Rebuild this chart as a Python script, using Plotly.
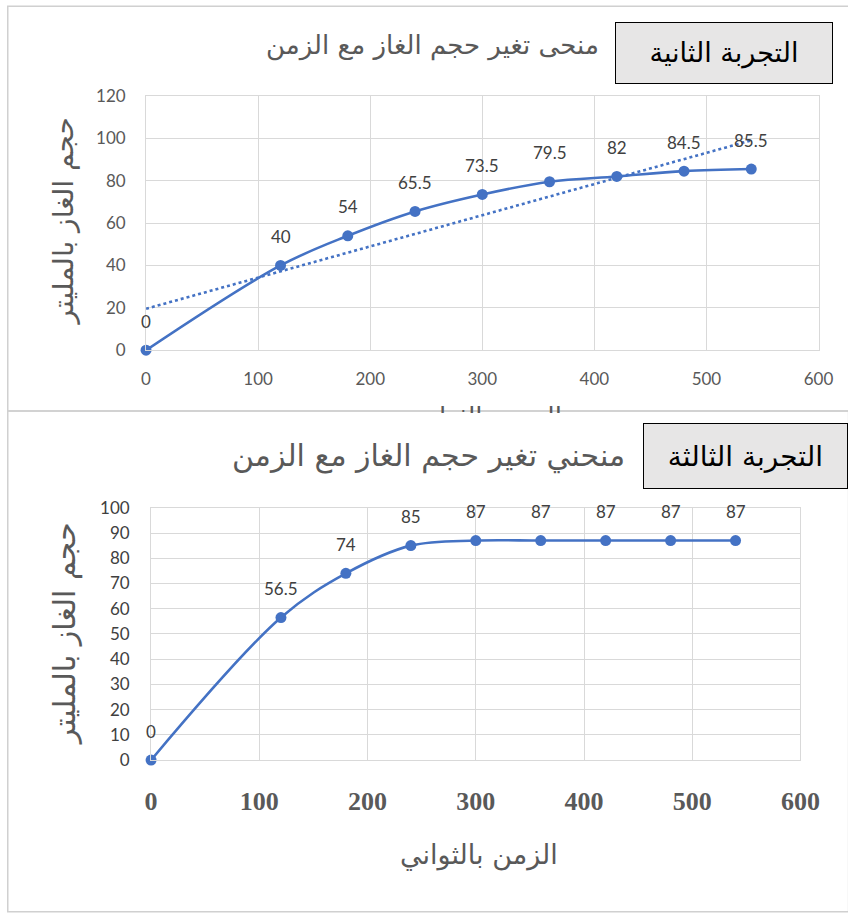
import numpy as np
import plotly.graph_objects as go

# layout positions below are given in page pixels of the final view
OFF = 8                      # body margin around the figure
KX, OX = 0.968, -1.5         # view scale / offset, horizontal
KY, OY = 0.98, 1.0           # view scale / offset, vertical
W, H = 870, 924

# ---- data ----
time_s = [0, 120, 180, 240, 300, 360, 420, 480, 540]
vol_exp2 = [0, 40, 54, 65.5, 73.5, 79.5, 82, 84.5, 85.5]
vol_exp3 = [0, 56.5, 74, 85, 87, 87, 87, 87, 87]

title_exp2 = "منحى تغير حجم الغاز مع الزمن"
title_exp3 = "منحني تغير حجم الغاز مع الزمن"
label_exp2 = "التجربة الثانية"
label_exp3 = "التجربة الثالثة"
x_title = "الزمن بالثواني"
y_title = "حجم الغاز بالمليتر"

BLUE = "#4472C4"
GRID = "#d9d9d9"
TXT = "#595959"
AR_FONT = "DejaVu Sans"
NUM_FONT = "Lato, Calibri, Carlito, sans-serif"


def fx(x):
    return (x - OX) / KX - OFF


def fy(y):
    return (y - OY) / KY - OFF


def px(x):
    return fx(x) / W


def py(y):
    return 1 - fy(y) / H


# linear trend of experiment 2
slope, intercept = np.polyfit(time_s, vol_exp2, 1)
trend_x = [time_s[0], time_s[-1]]
trend_y = [intercept + slope * t for t in trend_x]

fig = go.Figure()

fig.add_trace(go.Scatter(
    x=trend_x, y=trend_y, mode="lines", xaxis="x", yaxis="y",
    line=dict(color=BLUE, width=2.6, dash="dot"), hoverinfo="skip",
    cliponaxis=False,
))
fig.add_trace(go.Scatter(
    x=time_s, y=vol_exp2, mode="lines+markers", xaxis="x", yaxis="y",
    line=dict(color=BLUE, width=2.6, shape="spline", smoothing=1.0),
    marker=dict(color=BLUE, size=11), cliponaxis=False,
))
fig.add_trace(go.Scatter(
    x=time_s, y=vol_exp3, mode="lines+markers", xaxis="x2", yaxis="y2",
    line=dict(color=BLUE, width=2.6, shape="spline", smoothing=1.0),
    marker=dict(color=BLUE, size=11), cliponaxis=False,
))

axis_common = dict(
    showgrid=True, gridcolor=GRID, gridwidth=1, zeroline=False,
    showline=True, linecolor=GRID, linewidth=1, mirror=True,
    ticks="", fixedrange=True,
)

fig.update_layout(
    width=W, height=H, margin=dict(l=0, r=0, t=0, b=0),
    paper_bgcolor="white", plot_bgcolor="white", showlegend=False,
    xaxis=dict(axis_common, domain=[px(145), px(816)], range=[0, 600], dtick=100,
               anchor="y", ticklabelstandoff=13,
               tickfont=dict(family=NUM_FONT, size=17, color=TXT)),
    yaxis=dict(axis_common, domain=[py(349), py(94)], range=[0, 120], dtick=20,
               anchor="x", ticklabelstandoff=16,
               tickfont=dict(family=NUM_FONT, size=17, color=TXT)),
    xaxis2=dict(axis_common, domain=[px(150), px(798)], range=[0, 600], dtick=100,
                anchor="y2", ticklabelstandoff=18,
                tickfont=dict(family="Liberation Serif", size=26, color=TXT, weight="bold")),
    yaxis2=dict(axis_common, domain=[py(760), py(507)], range=[0, 100], dtick=10,
                anchor="x2", ticklabelstandoff=17,
                tickfont=dict(family=NUM_FONT, size=17, color="#404040")),
)

# panel frames (the upper one runs on past the right edge)
fig.add_shape(type="rect", xref="paper", yref="paper",
              x0=px(7), x1=px(900), y0=py(410), y1=py(4),
              line=dict(color="#d0d0d0", width=1.5), layer="below")
fig.add_shape(type="rect", xref="paper", yref="paper",
              x0=px(7), x1=px(846), y0=py(912), y1=py(410),
              line=dict(color="#d0d0d0", width=1.5), layer="below")

ann = []


def note(x, y, text, **kw):
    d = dict(x=px(x), y=py(y), xref="paper", yref="paper", text=text,
             showarrow=False, xanchor="center", yanchor="middle")
    d.update(kw)
    ann.append(d)


# value labels above each point
for xs, ys, xr, yr in [(time_s, vol_exp2, "x", "y"), (time_s, vol_exp3, "x2", "y2")]:
    for t, v in zip(xs, ys):
        ann.append(dict(x=t, y=v, xref=xr, yref=yr, text=f"{v:g}", showarrow=False,
                        xanchor="center", yanchor="middle", yshift=29,
                        font=dict(family=NUM_FONT, size=17, color="#404040")))

# top panel texts
note(431, 43, title_exp2, font=dict(family=AR_FONT, size=26, color=TXT))
note(722, 51, label_exp2, width=214, height=58, bgcolor="#e7e6e6",
     bordercolor="#000000", borderwidth=1,
     font=dict(family=AR_FONT, size=27, color="#000000"))
note(63, 220, y_title, textangle=-90, font=dict(family=AR_FONT, size=28, color=TXT))
# the top panel's x title runs under the lower panel's edge
note(484, 416, x_title, font=dict(family=AR_FONT, size=26, color=TXT))
note(484, 425, " ", width=330, height=25, bgcolor="white", borderwidth=0,
     font=dict(size=10))

# bottom panel texts
note(427, 455, title_exp3, font=dict(family=AR_FONT, size=30, color=TXT))
note(743, 455, label_exp3, width=201, height=62, bgcolor="#e7e6e6",
     bordercolor="#000000", borderwidth=1,
     font=dict(family=AR_FONT, size=28, color="#000000"))
note(65, 633, y_title, textangle=-90, font=dict(family=AR_FONT, size=30, color=TXT))
note(477, 855, x_title, font=dict(family=AR_FONT, size=27, color=TXT))

fig.update_layout(annotations=ann)

fig.write_html("out.html")
